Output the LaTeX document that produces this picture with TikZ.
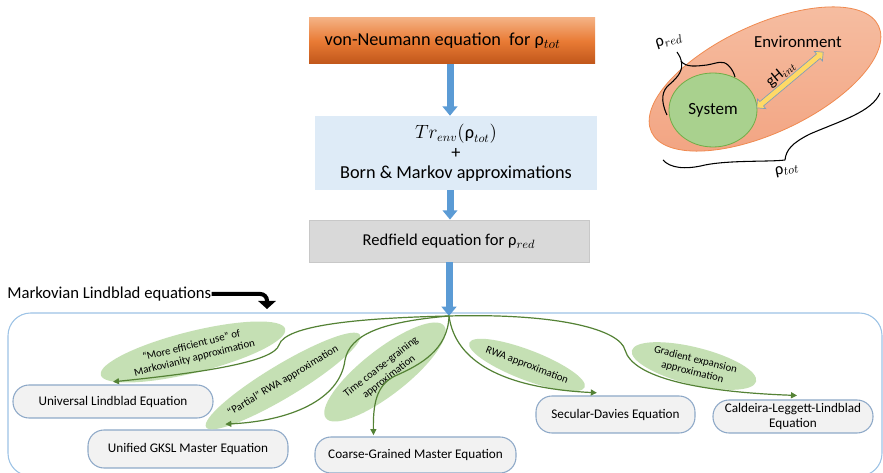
\documentclass[tikz,border=0pt]{standalone}
\usepackage{fontspec}
\setmainfont{Carlito}
\usetikzlibrary{arrows.meta,shapes.geometric,shapes.arrows,calc}
\definecolor{orTop}{HTML}{F4B183}
\definecolor{orMid}{HTML}{E97B35}
\definecolor{orBot}{HTML}{C0561A}
\definecolor{trFill}{HTML}{DEEBF7}
\definecolor{rfFill}{HTML}{D9D9D9}
\definecolor{rfEdge}{HTML}{C8C8C8}
\definecolor{arrBlue}{HTML}{5B9BD5}
\definecolor{frameEdge}{HTML}{9DC3E6}
\definecolor{boxFill}{HTML}{F2F2F2}
\definecolor{boxEdge}{HTML}{8EA9C8}
\definecolor{ellFill}{HTML}{C5E0B4}
\definecolor{lineGreen}{HTML}{548235}
\definecolor{envTop}{HTML}{F6BEA2}
\definecolor{envBot}{HTML}{F2A482}
\definecolor{envEdge}{HTML}{F08A50}
\definecolor{sysFill}{HTML}{A9D18E}
\definecolor{sysEdge}{HTML}{70AD47}
\definecolor{ghFill}{HTML}{FFD966}
\definecolor{ghEdge}{HTML}{7F9DB9}
\begin{document}
\begin{tikzpicture}[x=0.75pt,y=-0.75pt,
  bluearr/.style={draw=arrBlue, line width=5.25pt, -{Triangle[width=11pt,length=7pt]}},
  eqbox/.style={draw=boxEdge, fill=boxFill, rounded corners=12pt, line width=0.8pt,
    font=\fontsize{9.9}{11.5}\selectfont, align=center, inner sep=1pt},
  greenell/.style={ellipse, fill=ellFill, inner sep=0pt, align=center,
    font=\fontsize{8.1}{9.6}\selectfont},
  conn/.style={draw=lineGreen, line width=0.9pt, -{Triangle[width=4.5pt,length=4.5pt]}},
  brace/.style={draw=black, line width=0.8pt}
]
\clip (0,0) rectangle (883,473);
\fill[white] (0,0) rectangle (883,473);

% top chain
\node[minimum width=214.5pt, minimum height=34.5pt, top color=orTop, bottom color=orBot, middle color=orMid,
  font=\fontsize{13.7}{15}\selectfont] (vn) at (452,41) {\hspace*{-14pt}von-Neumann equation\ \ for ρ$_{tot}$};
\node[minimum width=211.5pt, minimum height=55.5pt, fill=trFill, align=center,
  font=\fontsize{13.7}{15}\selectfont] (tr) at (456,153)
  {\fontsize{13.5}{15}\selectfont$Tr_{env}(\mbox{\fontsize{13.7}{15}\selectfont ρ}_{tot})$\\+\\Born \& Markov approximations};
\node[minimum width=210pt, minimum height=31.5pt, fill=rfFill, draw=rfEdge, line width=0.6pt,
  font=\fontsize{12.4}{13}\selectfont] (rf) at (449,241) {Redfield equation for ρ$_{red}$};
\coordinate (hub) at (449,316);

% frame
\draw[frameEdge, line width=0.8pt, rounded corners=17pt] (8,313) rectangle (882,476);

\draw[bluearr] (vn.south -| 450,0) -- (tr.north -| 450,0);
\draw[bluearr] (tr.south -| 450,0) -- (rf.north -| 450,0);
\draw[bluearr] (rf.south -| 449,0) -- (hub);

% Markovian label
\node[anchor=west, font=\fontsize{12.5}{13}\selectfont, inner sep=0pt] (mlab) at (7,294) {Markovian Lindblad equations};
\coordinate (mtip) at (267,309);
\draw[black, line width=3pt, rounded corners=5pt, -{Triangle[width=13pt,length=6pt]}] (mlab.east) -| (mtip);

% boxes
\node[eqbox, minimum width=150pt, minimum height=24.75pt] (ule) at (113,401.5) {Universal Lindblad Equation};
\node[eqbox, minimum width=150pt, minimum height=28.5pt] (ugksl) at (188,449) {Unified GKSL Master Equation};
\node[eqbox, minimum width=150.75pt, minimum height=27pt] (cgme) at (415.5,455) {Coarse-Grained Master Equation};
\node[eqbox, minimum width=119.25pt, minimum height=27.75pt] (sde) at (615.5,414.5) {Secular-Davies Equation};
\node[eqbox, minimum width=120pt, minimum height=24.75pt, font=\fontsize{9.9}{11}\selectfont] (cll) at (793,416.5) {Caldeira-Leggett-Lindblad\\Equation};

% ellipses
\node[greenell, minimum width=142.5pt, minimum height=31pt, rotate=14] (e1) at (193,352)
  {“More efficient use” of\\Markovianity approximation};
\node[greenell, minimum width=123.75pt, minimum height=24.75pt, rotate=31] (e2) at (283,381)
  {“Partial” RWA approximation};
\node[greenell, minimum width=112.5pt, minimum height=34pt, rotate=38] (e3) at (385,372)
  {Time coarse-graining\\approximation};
\node[greenell, minimum width=91.5pt, minimum height=22.5pt, rotate=-21] (e4) at (527,365)
  {RWA approximation};
\node[greenell, minimum width=96pt, minimum height=28pt, rotate=-14] (e5) at (694,366)
  {Gradient expansion\\approximation};

% connectors
\draw[conn] (hub) .. controls (360,318) and (285,325) .. (279,345)
  .. controls (274,362) and (200,373) .. ([yshift=2pt]ule.north);
\draw[conn] (hub) .. controls (380,322) and (350,335) .. (345,360)
  .. controls (340,400) and (290,421) .. ([xshift=28pt,yshift=4pt]ugksl.north);
\draw[conn] (hub) .. controls (448,350) and (420,365) .. (395,376)
  .. controls (376,385) and (373,405) .. ([xshift=-31.5pt,yshift=1pt]cgme.north);
\draw[conn] (hub) .. controls (455,360) and (500,388) .. ([xshift=-14pt,yshift=2pt]sde.north);
\draw[conn] (hub) .. controls (560,313) and (620,330) .. (625,350)
  .. controls (633,378) and (700,392) .. ([xshift=3pt,yshift=3pt]cll.north);

% top-right scene
\node[ellipse, top color=envTop, bottom color=envBot, draw=envEdge, line width=0.6pt, minimum width=188pt, minimum height=81pt, rotate=25] (env) at (765,79) {};
\node[ellipse, fill=sysFill, draw=sysEdge, line width=0.6pt, minimum width=66pt, minimum height=55.5pt,
  font=\fontsize{12.8}{13}\selectfont] (sys) at (713,110) {System};
\node[font=\fontsize{12.6}{13}\selectfont] (envlbl) at (798,42) {Environment};
\node[double arrow, fill=ghFill, draw=ghEdge, line width=0.5pt, rotate=40, minimum height=65pt,
  inner sep=1.9pt, double arrow head extend=2.6pt] (gh) at (790,80) {};
\node[rotate=40, font=\fontsize{12}{12}\selectfont] (ghl) at (781,74) {gH$_{int}$};
\node[rotate=18, font=\fontsize{12.5}{12}\selectfont] (pred) at (669,41) {ρ$_{red}$};
\node[rotate=12, font=\fontsize{12.5}{12}\selectfont] (ptot) at (787,170) {ρ$_{tot}$};
% braces
\draw[brace] (667,115) .. controls (660,100) and (662,90) .. (670,84)
  .. controls (678,77) and (684,70) .. (681,60) .. controls (680,56) and (678,54) .. (677,52);
\draw[brace] (681,61) .. controls (686,68) and (697,66) .. (707,65)
  .. controls (718,63) and (722,60) .. (728,65) .. controls (732,69) and (734,73) .. (735,77);
\draw[brace] (663,160) .. controls (670,168) and (685,170) .. (705,165)
  .. controls (730,160) and (770,162) .. (785,160);
\draw[brace] (785,160) .. controls (786,150) and (792,143) .. (810,134)
  .. controls (840,121) and (872,112) .. (880,93);
\end{tikzpicture}
\end{document}
